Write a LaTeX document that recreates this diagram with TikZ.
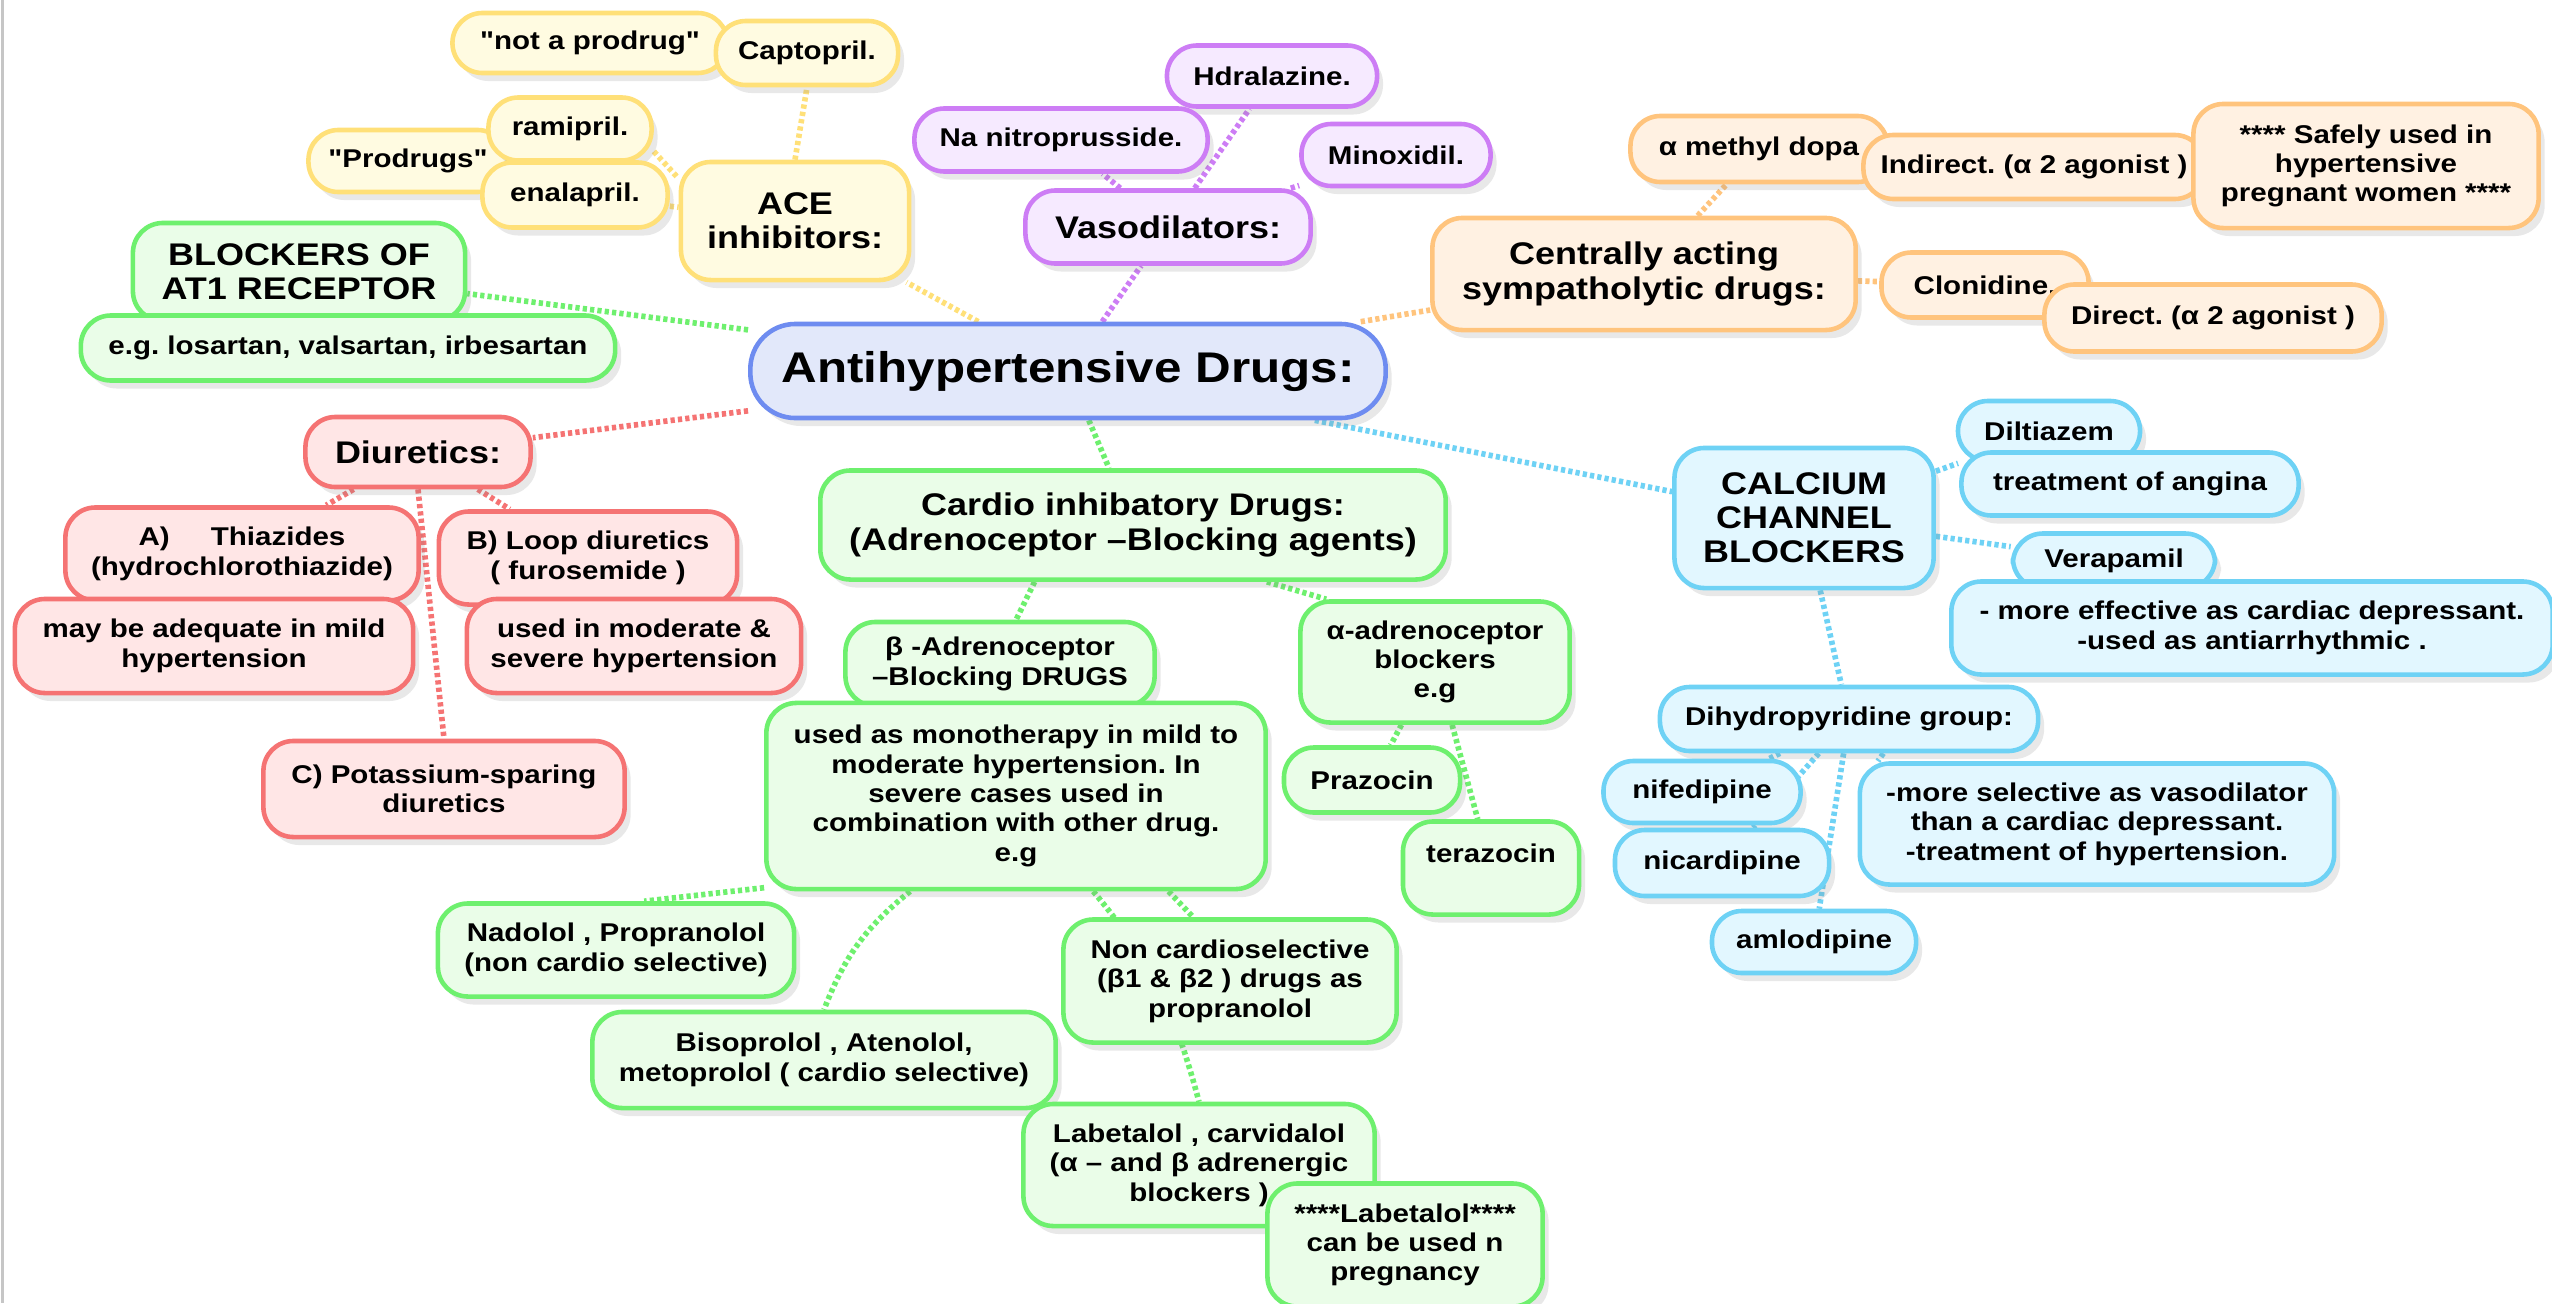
\documentclass[tikz,border=0pt]{standalone}
\usepackage{fontspec}
\newfontfamily\mapfont{Liberation Sans}[FakeStretch=1.15]
\usetikzlibrary{shadows,backgrounds}
\definecolor{yelB}{RGB}{255,224,120}
\definecolor{yelF}{RGB}{255,251,225}
\definecolor{purB}{RGB}{205,125,245}
\definecolor{purF}{RGB}{246,234,255}
\definecolor{orgB}{RGB}{255,196,125}
\definecolor{orgF}{RGB}{255,241,226}
\definecolor{grnB}{RGB}{110,240,110}
\definecolor{grnF}{RGB}{234,253,232}
\definecolor{bluB}{RGB}{110,140,240}
\definecolor{bluF}{RGB}{226,232,250}
\definecolor{redB}{RGB}{245,115,115}
\definecolor{redF}{RGB}{255,230,230}
\definecolor{cyaB}{RGB}{110,210,245}
\definecolor{cyaF}{RGB}{226,247,255}
\frenchspacing
\begin{document}
\begin{tikzpicture}[x=0.01cm,y=-0.01cm,
  base/.style={draw,line width=1.3pt,rounded corners=0.3cm,align=center,inner sep=1pt,
     drop shadow={opacity=0.18,shadow xshift=0.06cm,shadow yshift=-0.08cm}},
  sz/.style 2 args={minimum width=#1,minimum height=#2},
  sm/.style={font=\mapfont\bfseries\frenchspacing\fontsize{7.3}{8.35}\selectfont},
  lg/.style={font=\mapfont\bfseries\frenchspacing\fontsize{8.9}{9.7}\selectfont},
  yel/.style={base,draw=yelB,fill=yelF},
  pur/.style={base,draw=purB,fill=purF},
  org/.style={base,draw=orgB,fill=orgF},
  grn/.style={base,draw=grnB,fill=grnF},
  blu/.style={base,draw=bluB,fill=bluF},
  red/.style={base,draw=redB,fill=redF},
  cya/.style={base,draw=cyaB,fill=cyaF},
  link/.style={line width=1.6pt,dash pattern=on 1.2pt off 0.9pt},
]
\useasboundingbox (0,0) rectangle (2552,1303);

% ---------- yellow: ACE inhibitors
\node[yel,sm,sz={2.75cm}{0.60cm}] (notpro) at (590,43) {"not a prodrug"};
\node[yel,sm,sz={1.82cm}{0.64cm}] (capto) at (807,53) {Captopril.};
\node[yel,sm,sz={1.99cm}{0.62cm}] (prodrugs) at (408,161) {"Prodrugs"};
\node[yel,sm,sz={1.63cm}{0.63cm}] (rami) at (570,129) {ramipril.};
\node[yel,sm,sz={1.85cm}{0.65cm}] (enala) at (575,195) {enalapril.};
\node[yel,lg,sz={2.28cm}{1.18cm}] (ace) at (795,221) {ACE\\inhibitors:};

% ---------- purple: vasodilators
\node[pur,sm,sz={2.10cm}{0.61cm}] (hdral) at (1272,76) {Hdralazine.};
\node[pur,sm,sz={2.93cm}{0.63cm}] (nitro) at (1061,140) {Na nitroprusside.};
\node[pur,sm,sz={1.89cm}{0.62cm}] (minox) at (1396,155) {Minoxidil.};
\node[pur,lg,sz={2.85cm}{0.73cm}] (vaso) at (1168,227) {Vasodilators:};

% ---------- orange: centrally acting
\node[org,sm,sz={2.57cm}{0.66cm}] (mdopa) at (1759,149) {α methyl dopa};
\node[org,sm,sz={3.41cm}{0.64cm}] (indirect) at (2034,167) {Indirect. (α 2 agonist )};
\node[org,sm,sz={3.45cm}{1.24cm}] (safely) at (2366,166) {**** Safely used in\\hypertensive\\pregnant women ****};
\node[org,lg,sz={4.23cm}{1.12cm}] (central) at (1644,274) {Centrally acting\\sympatholytic drugs:};
\node[org,sm,sz={2.07cm}{0.65cm}] (clon) at (1985,285) {Clonidine.};
\node[org,sm,sz={3.37cm}{0.67cm}] (direct) at (2213,318) {Direct. (α 2 agonist )};

% ---------- green: AT1 blockers
\node[grn,lg,sz={3.32cm}{0.98cm}] (at1) at (299,272) {BLOCKERS OF\\AT1 RECEPTOR};
\node[grn,sm,sz={5.34cm}{0.65cm}] (eg) at (348,348) {e.g. losartan, valsartan, irbesartan};

% ---------- title
\node[blu,font=\mapfont\bfseries\fontsize{12.2}{14}\selectfont,sz={6.35cm}{0.94cm},rounded corners=0.45cm] (title) at (1068,371) {Antihypertensive Drugs:};

% ---------- red: diuretics
\node[red,lg,sz={2.25cm}{0.70cm}] (diur) at (418,452) {Diuretics:};
\node[red,sm,sz={3.53cm}{0.93cm}] (thia) at (242,554) {A)\hspace{1.6em}Thiazides\\(hydrochlorothiazide)};
\node[red,sm,sz={3.98cm}{0.94cm}] (mild) at (214,646) {may be adequate in mild\\hypertension};
\node[red,sm,sz={2.98cm}{0.93cm}] (loop) at (588,558) {B) Loop diuretics\\( furosemide )};
\node[red,sm,sz={3.34cm}{0.94cm}] (modsev) at (634,646) {used in moderate \&\\severe hypertension};
\node[red,sm,sz={3.61cm}{0.96cm}] (potas) at (444,789) {C) Potassium-sparing\\diuretics};

% ---------- green: cardio inhibitory
\node[grn,lg,sz={6.25cm}{1.09cm}] (cardio) at (1133,525) {Cardio inhibatory Drugs:\\(Adrenoceptor –Blocking agents)};
\node[grn,sm,sz={3.09cm}{0.84cm}] (beta) at (1000,664) {β -Adrenoceptor\\–Blocking DRUGS};
\node[grn,sm,sz={4.99cm}{1.86cm}] (mono) at (1016,796) {used as monotherapy in mild to\\moderate hypertension. In\\severe cases used in\\combination with other drug.\\e.g};
\node[grn,sm,sz={2.69cm}{1.21cm}] (alpha) at (1435,662) {α-adrenoceptor\\blockers\\e.g};
\node[grn,sm,sz={1.76cm}{0.65cm}] (praz) at (1372,780) {Prazocin};
\node[grn,sm,sz={1.76cm}{0.93cm},text height=0.2cm,text depth=0.32cm] (tera) at (1491,868) {terazocin};
\node[grn,sm,sz={3.56cm}{0.93cm}] (nadolol) at (616,950) {Nadolol , Propranolol\\(non cardio selective)};
\node[grn,sm,sz={4.63cm}{0.96cm}] (biso) at (824,1060) {Bisoprolol , Atenolol,\\metoprolol ( cardio selective)};
\node[grn,sm,sz={3.33cm}{1.23cm}] (noncardio) at (1230,981) {Non cardioselective\\(β1 \& β2 ) drugs as\\propranolol};
\node[grn,sm,sz={3.51cm}{1.22cm}] (labet) at (1199,1165) {Labetalol , carvidalol\\(α – and β adrenergic\\blockers )};
\node[grn,sm,sz={2.75cm}{1.23cm}] (labet2) at (1405,1245) {****Labetalol****\\can be used n\\pregnancy};

% ---------- cyan: calcium channel blockers
\node[cya,sm,sz={1.82cm}{0.60cm}] (dilt) at (2049,431) {Diltiazem};
\node[cya,sm,sz={3.37cm}{0.63cm}] (angina) at (2130,484) {treatment of angina};
\node[cya,lg,sz={2.59cm}{1.40cm}] (calcium) at (1804,518) {CALCIUM\\CHANNEL\\BLOCKERS};
\node[cya,sm,sz={2.02cm}{0.55cm}] (vera) at (2114,561) {Verapamil};
\node[cya,sm,sz={6.01cm}{0.93cm}] (moreeff) at (2252,628) {- more effective as cardiac depressant.\\-used as antiarrhythmic .};
\node[cya,sm,sz={3.78cm}{0.64cm}] (dihydro) at (1849,719) {Dihydropyridine group:};
\node[cya,sm,sz={1.97cm}{0.62cm}] (nife) at (1702,792) {nifedipine};
\node[cya,sm,sz={2.14cm}{0.66cm}] (nica) at (1722,863) {nicardipine};
\node[cya,sm,sz={4.74cm}{1.21cm}] (moresel) at (2097,824) {-more selective as vasodilator\\than a cardiac depressant.\\-treatment of hypertension.};
\node[cya,sm,sz={2.04cm}{0.62cm}] (amlo) at (1814,942) {amlodipine};

\begin{pgfonlayer}{background}
\fill[white] (0,0) rectangle (2552,1303);
\fill[gray!45] (1,0) rectangle (4,1303);
% yellow
\draw[link,yelB] (title) -- (ace);
\draw[link,yelB] (ace.north) -- (capto.south);
\draw[link,yelB] (rami.-15) -- (ace.160);
\draw[link,yelB] (enala) -- (ace);
% purple
\draw[link,purB] (title) -- (vaso);
\draw[link,purB] (vaso) -- (nitro);
\draw[link,purB] (vaso) -- (hdral);
\draw[link,purB] (vaso) -- (minox);
% orange
\draw[link,orgB] (title) -- (central);
\draw[link,orgB] (central) -- (mdopa);
\draw[link,orgB] (central) -- (clon);
% green
\draw[link,grnB] (title) -- (at1);
\draw[link,grnB] (title) -- (cardio);
\draw[link,grnB] (cardio.-150) -- (beta.70);
\draw[link,grnB] (cardio.-23) -- (alpha.150);
\draw[link,grnB] (alpha) -- (praz);
\draw[link,grnB] (alpha) -- (tera);
\draw[link,grnB] (mono.200) -- (nadolol.60);
\draw[link,grnB] (mono.-138) to[bend right=15] (biso.north);
\draw[link,grnB] (mono.-51) to[out=-50,in=105] (labet.north);
\draw[link,grnB] (mono.-32) -- (noncardio.120);
% red
\draw[link,redB] (title) -- (diur);
\draw[link,redB] (diur) -- (thia);
\draw[link,redB] (diur) -- (loop);
\draw[link,redB] (diur.south) -- (potas.north);
% cyan
\draw[link,cyaB] (title) -- (calcium);
\draw[link,cyaB] (calcium) -- (dilt);
\draw[link,cyaB] (calcium) -- (vera);
\draw[link,cyaB] (calcium) -- (dihydro);
\draw[link,cyaB] (dihydro) -- (nife);
\draw[link,cyaB] (dihydro) -- (nica);
\draw[link,cyaB] (dihydro) -- (amlo);
\draw[link,cyaB] (dihydro.-45) -- (moresel.164);
\end{pgfonlayer}
\end{tikzpicture}
\end{document}
